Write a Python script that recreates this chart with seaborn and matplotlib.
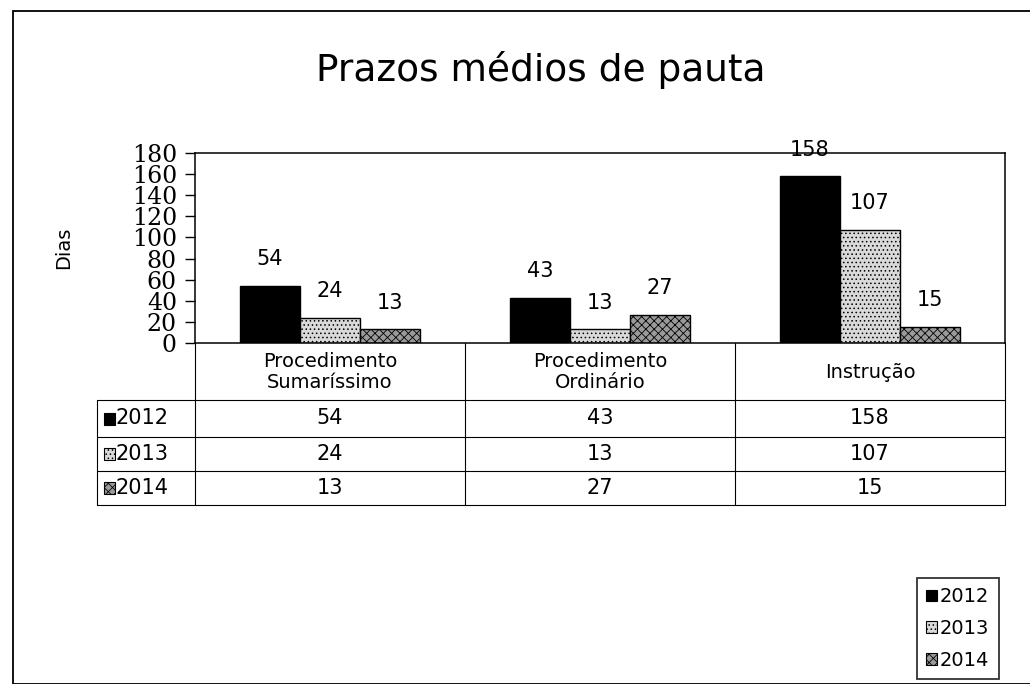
import matplotlib
matplotlib.use("Agg")
import matplotlib.pyplot as plt
import numpy as np
import pandas as pd
import seaborn as sns
from matplotlib.patches import Rectangle

categories = ["Procedimento\nSumaríssimo", "Procedimento\nOrdinário", "Instrução"]
years = ["2012", "2013", "2014"]
values_2012 = [54, 43, 158]
values_2013 = [24, 13, 107]
values_2014 = [13, 27, 15]
y_ticks = [0, 20, 40, 60, 80, 100, 120, 140, 160, 180]

series = {"2012": values_2012, "2013": values_2013, "2014": values_2014}
df = pd.DataFrame(
    [(cat, yr, series[yr][i]) for yr in years for i, cat in enumerate(categories)],
    columns=["categoria", "ano", "dias"],
)

colors = {"2012": "#000000", "2013": "#d9d9d9", "2014": "#9a9a9a"}
hatches = {"2012": "", "2013": "....", "2014": "xxxx"}

sns.set_theme(style="white")
plt.rcParams["font.family"] = ["DejaVu Sans"]
plt.rcParams["text.color"] = "black"
plt.rcParams["axes.labelcolor"] = "black"
plt.rcParams["ytick.color"] = "black"
plt.rcParams["hatch.color"] = "#6e6e6e"
plt.rcParams["hatch.linewidth"] = 0.6

fig = plt.figure(figsize=(10.30, 6.84), dpi=100)
W, H = 1030, 684


def fx(px):
    return px / W


def fy(py):
    return 1 - py / H


# chart border
fig.patches.append(Rectangle((fx(13), fy(684)), fx(1030), fy(11) - fy(684),
                             transform=fig.transFigure, fill=False,
                             edgecolor="black", linewidth=1.3))

ax = fig.add_axes([fx(195), fy(343), fx(1005 - 195), fy(153) - fy(343)])
sns.barplot(data=df, x="categoria", y="dias", hue="ano", hue_order=years,
            palette=colors, width=0.667, saturation=1, ax=ax, legend=False,
            edgecolor="black", linewidth=1.0)

for container, yr in zip(ax.containers, years):
    for bar in container:
        bar.set_hatch(hatches[yr])
    ax.bar_label(container, labels=[str(v) for v in series[yr]], padding=12,
                 fontsize=15)

ax.set_ylim(0, 180)
ax.set_xlim(-0.5, 2.5)
ax.set_yticks(y_ticks)
ax.set_yticklabels([str(t) for t in y_ticks], family="DejaVu Serif", fontsize=17)
ax.tick_params(axis="y", direction="out", length=7, width=1, pad=6,
               left=True, labelleft=True)
ax.set_xticks([])
ax.set_xlabel("")
ax.set_ylabel("Dias", fontsize=14, labelpad=42)
for side in ["left", "right", "top", "bottom"]:
    ax.spines[side].set_color("black")
    ax.spines[side].set_linewidth(1.1)

fig.text(0.525, fy(70), "Prazos médios de pauta", ha="center", va="center",
         fontsize=27)

# data table below the plot
tax = fig.add_axes([fx(97), fy(505), fx(1005 - 97), fy(343) - fy(505)])
left_col = -0.5 - (195 - 97) / 270
tax.set_xlim(left_col, 2.5)
tax.set_ylim(505, 343)
tax.axis("off")
row_edges = [343, 400, 437, 471, 505]
col_edges = [-0.5, 0.5, 1.5, 2.5]
line_kw = dict(color="black", linewidth=0.8, clip_on=False)
for x in col_edges:
    tax.plot([x, x], [343, 505], **line_kw)
tax.plot([left_col, left_col], [400, 505], **line_kw)
for y in row_edges[1:]:
    tax.plot([left_col, 2.5], [y, y], **line_kw)

for i, cat in enumerate(categories):
    tax.text(i, 372, cat, ha="center", va="center", fontsize=14,
             linespacing=1.1)
for r, yr in enumerate(years):
    yc = (row_edges[r + 1] + row_edges[r + 2]) / 2
    tax.add_patch(Rectangle((left_col + 0.025, yc - 6), 0.042, 12,
                            facecolor=colors[yr], edgecolor="black",
                            hatch=hatches[yr], linewidth=0.8))
    tax.text(left_col + 0.07, yc, yr, ha="left", va="center", fontsize=15)
    for i in range(len(categories)):
        tax.text(i, yc, str(series[yr][i]), ha="center", va="center",
                 fontsize=15)

# legend
handles = [Rectangle((0, 0), 1, 1, facecolor=colors[yr], edgecolor="black",
                     hatch=hatches[yr], linewidth=0.8) for yr in years]
leg = fig.legend(handles, years, loc="upper left",
                 bbox_to_anchor=(fx(907), fy(568)), frameon=True, fontsize=14,
                 handlelength=0.55, handleheight=0.55, handletextpad=0.15,
                 labelspacing=0.65, borderpad=0.5, fancybox=False)
leg.get_frame().set_edgecolor("black")
leg.get_frame().set_linewidth(1.3)

fig.savefig("out.png", dpi=100)
